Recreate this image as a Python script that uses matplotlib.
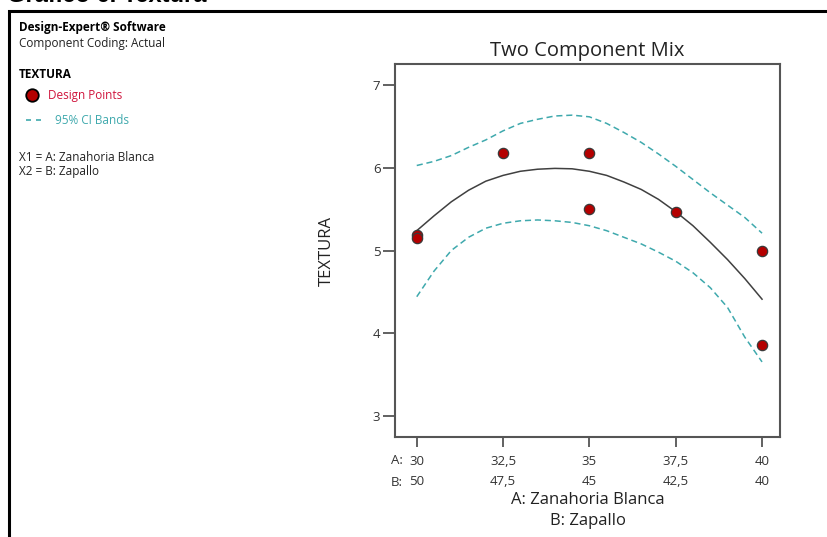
import matplotlib.pyplot as plt
from matplotlib.patches import Rectangle
from matplotlib.lines import Line2D

plt.rcParams['font.family'] = ['Open Sans', 'DejaVu Sans']

# mezcla: A (zanahoria blanca) y B (zapallo)
ticks_a = [30, 32.5, 35, 37.5, 40]
ticks_b = [50, 47.5, 45, 42.5, 40]

# puntos de diseño
pts_a = [30, 30, 32.5, 35, 35, 37.5, 40, 40]
pts_y = [5.19, 5.15, 6.18, 6.18, 5.50, 5.47, 5.00, 3.86]

# curva ajustada y bandas IC 95%
curve_a = [30, 30.5, 31, 31.5, 32, 32.5, 33, 33.5, 34, 34.5, 35,
           35.5, 36, 36.5, 37, 37.5, 38, 38.5, 39, 39.5, 40]
fit_y = [5.24, 5.42, 5.59, 5.73, 5.84, 5.91, 5.96, 5.985, 5.995, 5.99, 5.96,
         5.91, 5.83, 5.74, 5.62, 5.47, 5.30, 5.10, 4.89, 4.66, 4.41]
ci_up = [6.03, 6.08, 6.15, 6.25, 6.34, 6.45, 6.54, 6.59, 6.63, 6.64, 6.62,
         6.54, 6.43, 6.31, 6.17, 6.02, 5.86, 5.70, 5.55, 5.40, 5.21]
ci_lo = [4.44, 4.75, 5.00, 5.16, 5.27, 5.33, 5.36, 5.37, 5.36, 5.34, 5.30,
         5.24, 5.16, 5.08, 4.98, 4.87, 4.73, 4.55, 4.31, 3.95, 3.65]

teal = '#3fa9ad'
red_txt = '#d0143c'
pt_col = '#b40000'

W, H = 827, 537
fig = plt.figure(figsize=(W / 100, H / 100), dpi=100)
ax = fig.add_axes([395 / W, 1 - 437 / H, (780 - 395) / W, (437 - 64) / H])

ax.plot(curve_a, ci_up, ls=(0, (4, 2.5)), color=teal, lw=1.1)
ax.plot(curve_a, ci_lo, ls=(0, (4, 2.5)), color=teal, lw=1.1)
ax.plot(curve_a, fit_y, color='#404040', lw=1.1)
ax.scatter(pts_a, pts_y, s=55, color=pt_col, edgecolors='#3a3a3a', linewidths=0.9, zorder=5)

ax.set_xlim(29.37, 40.52)
ax.set_ylim(2.74, 7.26)
ax.set_xticks(ticks_a)
ax.set_xticklabels(['%s\n%s' % (str(a).replace('.', ','), str(b).replace('.', ','))
                    for a, b in zip(ticks_a, ticks_b)], linespacing=1.72)
ax.set_yticks([3, 4, 5, 6, 7])
ax.tick_params(axis='x', length=7, width=1.3, color='#555555', labelsize=9.5, pad=6, labelcolor='#333333')
ax.tick_params(axis='y', length=8.5, width=1.3, color='#555555', labelsize=9.5, pad=2, labelcolor='#333333')
for s in ax.spines.values():
    s.set_color('#555555')
    s.set_linewidth(1.5)

ax.set_title('Two Component Mix', fontsize=14.5, color='#222222', pad=6)
ax.set_ylabel('TEXTURA', fontsize=12, color='#222222', labelpad=27)
ax.set_xlabel('A: Zanahoria Blanca\nB: Zapallo', fontsize=12, color='#222222', labelpad=3, linespacing=1.35)

fig.text(403 / W, 1 - 461 / H, 'A:', ha='right', va='center', fontsize=9.5, color='#333333')
fig.text(403 / W, 1 - 482 / H, 'B:', ha='right', va='center', fontsize=9.5, color='#333333')

# panel izquierdo
fig.text(19 / W, 1 - 28 / H, 'Design-Expert® Software', fontsize=8.5, fontweight='bold', va='center')
fig.text(19 / W, 1 - 44 / H, 'Component Coding: Actual', fontsize=8.5, va='center', color='#222222')
fig.text(19 / W, 1 - 74 / H, 'TEXTURA', fontsize=8.5, fontweight='bold', va='center')
fig.add_artist(Line2D([32 / W], [1 - 95 / H], marker='o', markersize=9, color=pt_col,
                      markeredgecolor='black', markeredgewidth=1.3, transform=fig.transFigure))
fig.text(48 / W, 1 - 95 / H, 'Design Points', fontsize=8.5, va='center', color=red_txt)
fig.add_artist(Line2D([26 / W, 44 / W], [1 - 120 / H, 1 - 120 / H], ls=(0, (3, 3)), lw=1.2,
                      color=teal, transform=fig.transFigure))
fig.text(55 / W, 1 - 120 / H, '95% CI Bands', fontsize=8.5, va='center', color=teal)
fig.text(19 / W, 1 - 157 / H, 'X1 = A: Zanahoria Blanca', fontsize=8.5, va='center', color='#222222')
fig.text(19 / W, 1 - 172 / H, 'X2 = B: Zapallo', fontsize=8.5, va='center', color='#222222')

# marco exterior y título (cortado arriba, como en el original)
fig.add_artist(Rectangle((8.5 / W, -0.2), 1.2, 1.2 + (1 - 11 / H) - 1, transform=fig.transFigure,
                         fill=False, lw=2.2, edgecolor='black'))
fig.text(7 / W, 1 - 2.5 / H, 'Gráfico 6. Textura', fontsize=17, fontweight='bold', va='baseline',
         family=['Liberation Sans', 'DejaVu Sans'])

fig.savefig('out.png', dpi=100)
